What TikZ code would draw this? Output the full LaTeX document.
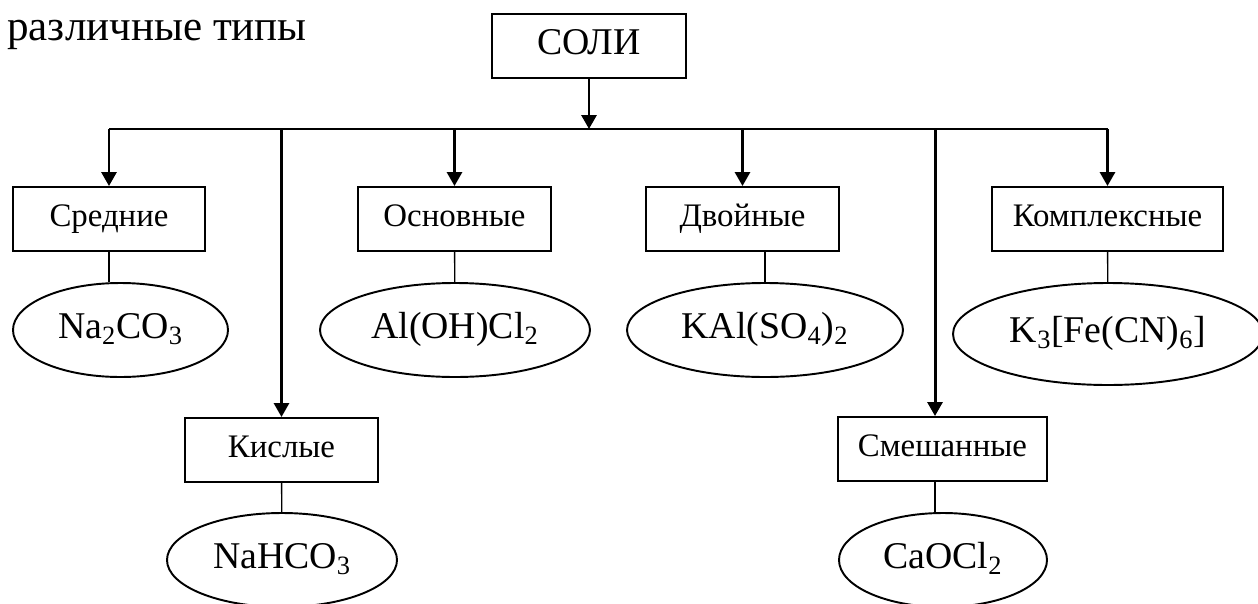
\documentclass[tikz,border=0pt]{standalone}
\usepackage{fontspec}
\setmainfont{Liberation Serif}
\usetikzlibrary{arrows.meta,shapes.geometric}

\begin{document}
\begin{tikzpicture}[
        box/.style={shape=rectangle,draw=black,line width=1.1pt,minimum height=1.28cm,inner sep=2pt,text height=13pt,text depth=4pt,font=\fontsize{18.7}{22}\selectfont},
        oval/.style={shape=ellipse,draw=black,line width=1.1pt,minimum height=1.88cm,inner sep=0pt,text height=15pt,text depth=5pt,font=\fontsize{21.5}{24}\selectfont},
        arr/.style={line width=1.7pt,-{Triangle[width=0.3cm,length=0.28cm]}},
        stem/.style={line width=0.8pt}]
        \useasboundingbox (0,0) rectangle (25.16,-12.06);

        \node[anchor=base west,inner sep=0pt,font=\fontsize{24.5}{28}\selectfont] (title) at (0.14,-0.80) {различные типы};
        \node[box,minimum width=3.88cm,text height=15pt,text depth=5pt,font=\fontsize{21.5}{24}\selectfont] (soli) at (11.78,-0.92) {СОЛИ};

        \node[box,minimum width=3.84cm] (sred) at (2.18,-4.38) {Средние};
        \node[box,minimum width=3.86cm] (osn) at (9.09,-4.38) {Основные};
        \node[box,minimum width=3.86cm] (dvoin) at (14.85,-4.38) {Двойные};
        \node[box,minimum width=4.62cm] (kompl) at (22.15,-4.38) {Комплексные};
        \node[box,minimum width=3.86cm] (kisl) at (5.63,-9.0) {Кислые};
        \node[box,minimum width=4.18cm] (smesh) at (18.85,-8.98) {Смешанные};

        \node[oval,minimum width=4.30cm] (na2co3) at (2.41,-6.60) {Na\textsubscript{2}CO\textsubscript{3}};
        \node[oval,minimum width=5.40cm] (aloh) at (9.10,-6.60) {Al(OH)Cl\textsubscript{2}};
        \node[oval,minimum width=5.52cm] (kal) at (15.30,-6.60) {KAl(SO\textsubscript{4})\textsubscript{2}};
        \node[oval,minimum width=6.20cm,minimum height=2.04cm] (kfe) at (22.16,-6.68) {K\textsubscript{3}[Fe(CN)\textsubscript{6}]};
        \node[oval,minimum width=4.60cm] (nahco3) at (5.64,-11.20) {NaHCO\textsubscript{3}};
        \node[oval,minimum width=4.16cm] (caocl) at (18.86,-11.20) {CaOCl\textsubscript{2}};

        % the bus under СОЛИ
        \coordinate (bus) at (0,-2.58);
        \coordinate (m5) at (18.70,-2.58);
        \draw[arr] (soli) -- (soli |- bus);
        \draw[line width=1.7pt] (sred.north |- bus) -- (kompl.north |- bus);

        \draw[arr] (sred.north |- bus) -- (sred);
        \draw[arr] (kisl.north |- bus) -- (kisl);
        \draw[arr] (osn.north |- bus) -- (osn);
        \draw[arr] (dvoin.north |- bus) -- (dvoin);
        \draw[arr] (m5) -- (m5 |- smesh.north);
        \draw[arr] (kompl.north |- bus) -- (kompl);

        \draw[stem] (sred) -- (sred.south |- na2co3.north);
        \draw[stem] (osn) -- (aloh);
        \draw[stem] (kal.north) -- (kal.north |- dvoin.south);
        \draw[stem] (kompl) -- (kfe);
        \draw[stem] (kisl) -- (nahco3);
        \draw[stem] (m5 |- smesh.south) -- (m5 |- caocl.north);
    \end{tikzpicture}
\end{document}
